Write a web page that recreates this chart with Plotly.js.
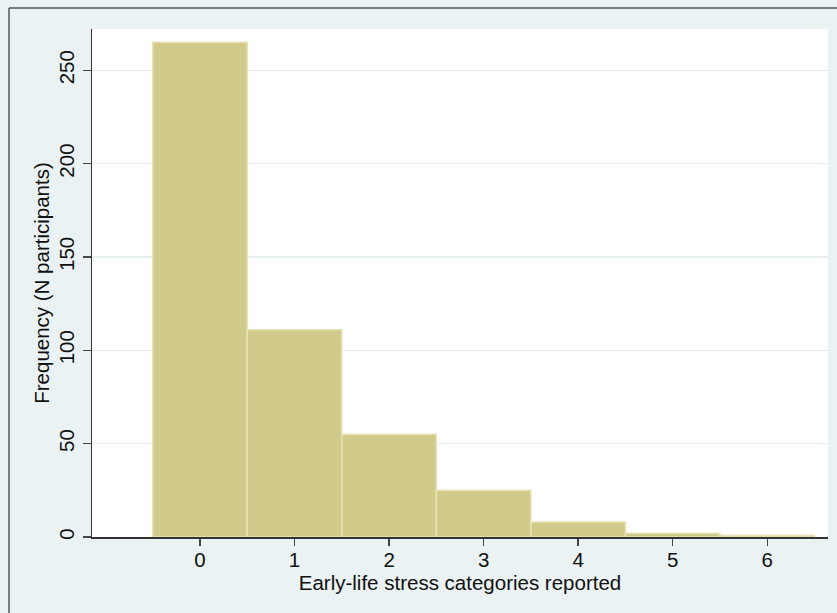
<!DOCTYPE html>
<html>
<head>
<meta charset="utf-8">
<script src="https://cdn.plot.ly/plotly-3.0.1.min.js"></script>
<style>html,body{margin:0;padding:0;background:#eaf2f3;}</style>
</head>
<body>
<div id="chart" style="width:837px;height:613px;"></div>
<script>
// Data
const categories = [0, 1, 2, 3, 4, 5, 6];
const counts = [265, 111, 55, 25, 8, 2, 1];
const xTickVals = [0, 1, 2, 3, 4, 5, 6];
const xTickText = ['0', '1', '2', '3', '4', '5', '6'];
const yTickVals = [0, 50, 100, 150, 200, 250];
const yTickText = ['0', '50', '100', '150', '200', '250'];

const W = 837, H = 613;
const m = {l: 92, r: 9, t: 29, b: 76};
const pw = W - m.l - m.r, ph = H - m.t - m.b;
const fnt = 'Liberation Sans, Arial, Helvetica, sans-serif';

const trace = {
  type: 'bar',
  x: categories,
  y: counts,
  width: 1,
  marker: {color: '#d1cb8b', line: {color: '#e7e3b6', width: 1.5}},
  hoverinfo: 'x+y'
};

const layout = {
  width: W, height: H,
  margin: m,
  paper_bgcolor: '#eaf2f3',
  plot_bgcolor: '#ffffff',
  showlegend: false,
  font: {family: fnt, size: 20, color: '#111'},
  bargap: 0,
  xaxis: {
    range: [-1.142, 6.642],
    tickmode: 'array', tickvals: xTickVals, ticktext: xTickText,
    ticks: 'outside', ticklen: 7, tickwidth: 1.5, tickcolor: '#444',
    ticklabelstandoff: -3,
    showline: true, linecolor: '#333', linewidth: 1.5,
    showgrid: false, zeroline: false,
    tickfont: {family: fnt, size: 20.5, color: '#111'},
    title: {text: 'Early-life stress categories reported', font: {family: fnt, size: 20.5, color: '#111'}, standoff: 2},
    automargin: false
  },
  yaxis: {
    range: [0, 272.1],
    tickmode: 'array', tickvals: yTickVals, ticktext: yTickText,
    tickangle: -90,
    ticks: 'outside', ticklen: 8, tickwidth: 1.5, tickcolor: '#444',
    showline: true, linecolor: '#333', linewidth: 1.5,
    showgrid: true, gridcolor: '#e6eef0', gridwidth: 1.5,
    zeroline: false,
    tickfont: {family: fnt, size: 20.5, color: '#111'},
    title: {text: 'Frequency (N participants)', font: {family: fnt, size: 20.5, color: '#111'}, standoff: 0},
    automargin: false
  },
  shapes: [
    {type: 'line', xref: 'paper', yref: 'paper',
     x0: (9 - m.l) / pw, x1: (W + 5 - m.l) / pw,
     y0: (H - m.b - 8) / ph, y1: (H - m.b - 8) / ph,
     line: {color: '#555', width: 1.5}},
    {type: 'line', xref: 'paper', yref: 'paper',
     x0: (9 - m.l) / pw, x1: (9 - m.l) / pw,
     y0: (H - m.b - 8) / ph, y1: -(m.b + 5) / ph,
     line: {color: '#555', width: 1.5}}
  ]
};

Plotly.newPlot('chart', [trace], layout, {displayModeBar: false, staticPlot: true});
</script>
</body>
</html>
